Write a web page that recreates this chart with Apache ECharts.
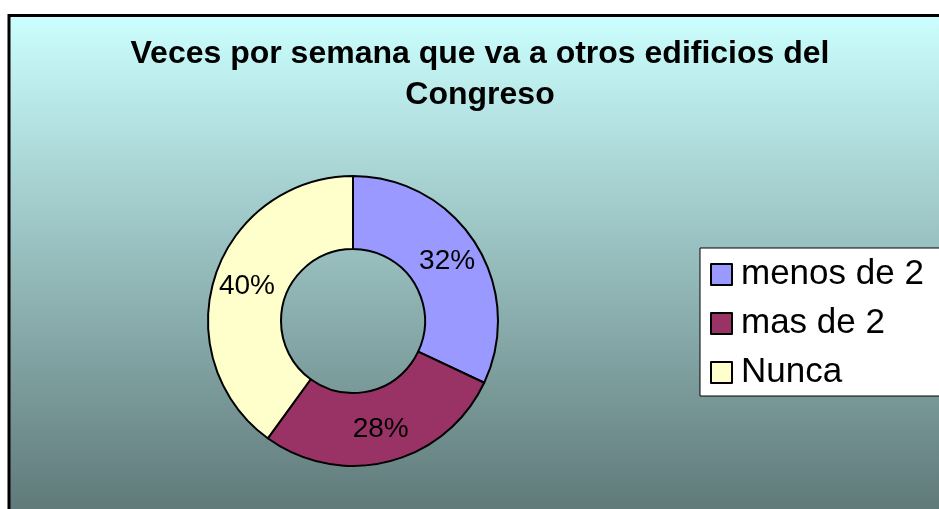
<!DOCTYPE html>
<html>
<head>
<meta charset="utf-8">
<script src="https://cdn.jsdelivr.net/npm/echarts@6/dist/echarts.min.js"></script>
<style>
html,body{margin:0;padding:0;background:#ffffff;}
#chart{width:939px;height:509px;}
</style>
</head>
<body>
<div id="chart"></div>
<script>
const categories = ['menos de 2', 'mas de 2', 'Nunca'];
const values = [32, 28, 40];
const colors = ['#9999FF', '#993366', '#FFFFCC'];
const titleText = 'Veces por semana que va a otros edificios del\nCongreso';

const chart = echarts.init(document.getElementById('chart'), null, {renderer: 'canvas'});
const font = '"Liberation Sans", Arial, sans-serif';

chart.setOption({
  backgroundColor: '#ffffff',
  animation: false,
  graphic: [{
    type: 'rect',
    z: -10,
    silent: true,
    shape: {x: 9, y: 15.5, width: 980, height: 520},
    style: {
      stroke: '#000000',
      lineWidth: 3,
      fill: {
        type: 'linear', x: 0, y: 0, x2: 0, y2: 1,
        colorStops: [
          {offset: 0, color: '#CCFFFF'},
          {offset: 1, color: '#5A7272'}
        ]
      }
    }
  }],
  title: {
    text: titleText,
    left: 480,
    top: 34,
    textAlign: 'center',
    padding: 0,
    textStyle: {
      fontFamily: font,
      fontSize: 32,
      fontWeight: 'bold',
      color: '#000000',
      lineHeight: 41
    }
  },
  legend: {
    orient: 'vertical',
    left: 700,
    top: 248,
    data: categories,
    backgroundColor: '#ffffff',
    borderColor: '#000000',
    borderWidth: 1,
    padding: [9, 40, 6, 10],
    itemWidth: 21,
    itemHeight: 21,
    itemGap: 14,
    icon: 'rect',
    itemStyle: {borderColor: '#000000', borderWidth: 2},
    textStyle: {
      fontFamily: font,
      fontSize: 35,
      color: '#000000',
      padding: [0, 0, 0, 4]
    }
  },
  series: [{
    type: 'pie',
    center: [353, 321],
    radius: [72, 145],
    startAngle: 90,
    clockwise: true,
    avoidLabelOverlap: false,
    itemStyle: {borderColor: '#000000', borderWidth: 2},
    label: {
      show: true,
      position: 'inside',
      formatter: '{d}%',
      fontFamily: font,
      fontSize: 28,
      color: '#000000'
    },
    labelLine: {show: false},
    emphasis: {disabled: true},
    data: categories.map((c, i) => ({name: c, value: values[i], itemStyle: {color: colors[i]}}))
  }]
});
</script>
</body>
</html>
